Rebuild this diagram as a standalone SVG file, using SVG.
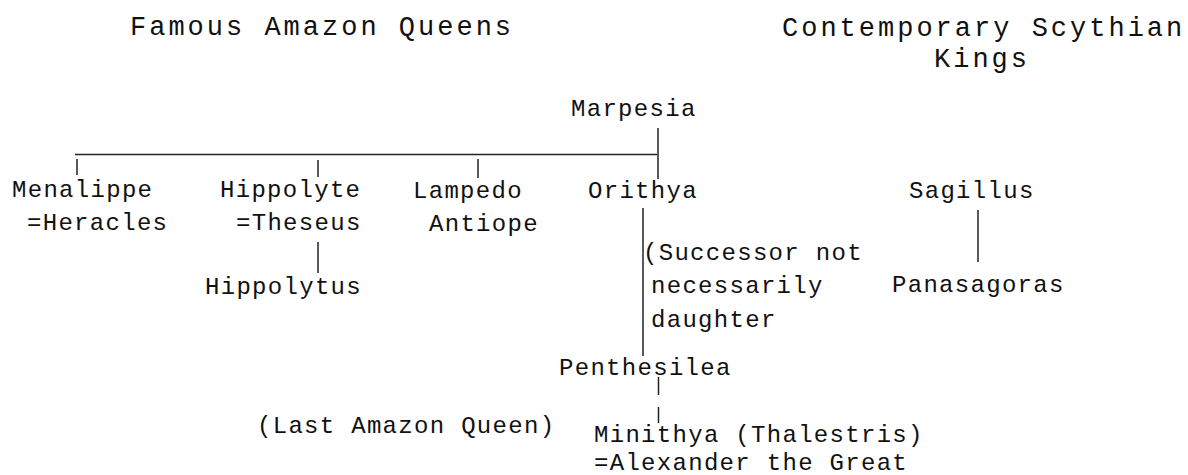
<svg xmlns="http://www.w3.org/2000/svg" width="1188" height="475" viewBox="0 0 1188 475">
<style>
.h{font-family:"Liberation Mono","DejaVu Sans Mono",monospace;font-size:27px;letter-spacing:3px;fill:#111}
.t{font-family:"Liberation Mono","DejaVu Sans Mono",monospace;font-size:24px;letter-spacing:1.3px;fill:#111}
.c{stroke:#222;stroke-width:1.5;fill:none}
</style>
<rect width="1188" height="475" fill="#fff"/>
<g id="headers">
<text class="h" x="130" y="35">Famous Amazon Queens</text>
<text class="h" x="782" y="36">Contemporary Scythian</text>
<text class="h" x="934" y="67">Kings</text>
</g>
<g id="connectors">
<path class="c" d="M75 154.5H657"/>
<path class="c" d="M77 159V175"/>
<path class="c" d="M318 160V177"/>
<path class="c" d="M478 159V178"/>
<path class="c" d="M658 128V179"/>
<path class="c" d="M318 242V273"/>
<path class="c" d="M643 208V356"/>
<path class="c" d="M658.5 377V395"/>
<path class="c" d="M658.5 407V423"/>
<path class="c" d="M978 210V262"/>
</g>
<g id="marpesia"><text class="t" x="571" y="116">Marpesia</text></g>
<g id="menalippe"><text class="t" x="12" y="197">Menalippe</text><text class="t" x="27" y="230">=Heracles</text></g>
<g id="hippolyte"><text class="t" x="220" y="197">Hippolyte</text><text class="t" x="236" y="230">=Theseus</text></g>
<g id="lampedo"><text class="t" x="413" y="198">Lampedo</text><text class="t" x="429" y="231">Antiope</text></g>
<g id="orithya"><text class="t" x="588" y="198">Orithya</text></g>
<g id="hippolytus"><text class="t" x="205" y="294">Hippolytus</text></g>
<g id="note"><text class="t" x="643" y="260">(Successor not</text><text class="t" x="651" y="293">necessarily</text><text class="t" x="651" y="327">daughter</text></g>
<g id="sagillus"><text class="t" x="909" y="198">Sagillus</text></g>
<g id="panasagoras"><text class="t" x="892" y="292">Panasagoras</text></g>
<g id="penthesilea"><text class="t" x="559" y="375">Penthesilea</text></g>
<g id="last-queen"><text class="t" x="257" y="433">(Last Amazon Queen)</text></g>
<g id="minithya"><text class="t" x="594" y="442">Minithya (Thalestris)</text><text class="t" x="594" y="470">=Alexander the Great</text></g>
</svg>
